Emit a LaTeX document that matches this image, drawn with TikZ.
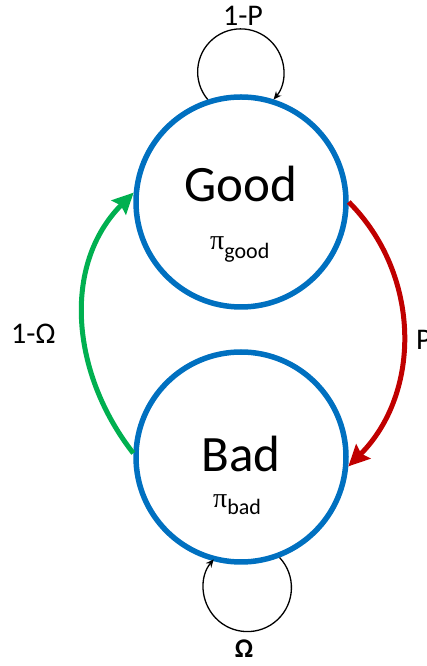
\documentclass[tikz,border=0pt]{standalone}
\usepackage{fontspec}
\setmainfont{Carlito}
\newfontfamily\pifam{Liberation Serif}
\usetikzlibrary{arrows.meta}
\definecolor{ringblue}{HTML}{0070C0}
\definecolor{upgreen}{HTML}{00B050}
\definecolor{downred}{HTML}{C00000}
\newcommand{\stprob}[2]{{\pifam\fontsize{28}{32}\selectfont π}\raisebox{#1}{\fontsize{22}{26}\selectfont #2}}
\begin{document}
\begin{tikzpicture}[x=1pt,y=1pt,
  state/.style={circle, draw=ringblue, line width=5.5pt, minimum size=210pt, inner sep=0pt},
  bigarrow/.style={line width=5pt, -{Stealth[length=21pt,width=20pt,inset=3pt]}},
  selfloop/.style={line width=1.3pt, -{Stealth[length=8pt,width=7pt]}},
  title/.style={font=\fontsize{51}{60}\selectfont, inner sep=0pt, anchor=base},
  prob/.style={inner sep=0pt, anchor=base west},
  edgelbl/.style={font=\fontsize{30}{36}\selectfont, inner sep=0pt, anchor=base},
]
\useasboundingbox (0,0) rectangle (427,666);

% the two states
\node[state] (good) at (241,464) {};
\node[state] (bad)  at (241,209) {};

\node[title] (goodname) at (241,464) {Good};
\node[prob] (goodpi) at (210,416) {\stprob{-9pt}{good}};

\node[title] (badname) at (241,194) {Bad};
\node[prob] (badpi) at (213,158) {\stprob{-7pt}{bad}};

% transitions between the states
\draw[bigarrow, upgreen] (bad.178) to[out=128, in=-135] (good.175);
\draw[bigarrow, downred] (good.0) to[out=-45, in=45] (bad.-5);

% self loops
\draw[selfloop] (good.108) arc[start angle=220, end angle=-40, radius=43];
\draw[selfloop] (bad.-69) arc[start angle=43, end angle=-220, radius=44];

% transition probabilities
\node[edgelbl] (lbltop) at (243,640) {1-P};
\node[edgelbl, anchor=base west] (lblleft) at (11,322) {1-Ω};
\node[edgelbl, anchor=base west] (lblright) at (416,316) {P};
\node[edgelbl, font=\fontsize{27}{32}\bfseries\selectfont] (lblbottom) at (244,9) {Ω};
\end{tikzpicture}
\end{document}
